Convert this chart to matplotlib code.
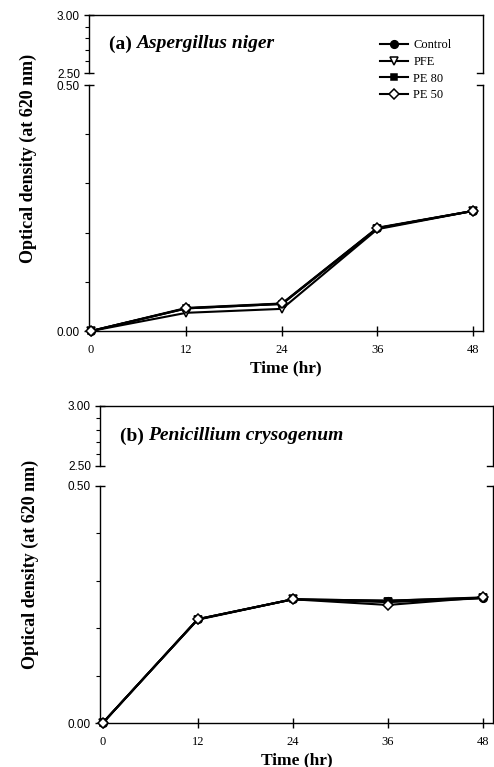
import matplotlib
matplotlib.use("Agg")
import matplotlib.pyplot as plt
from matplotlib.ticker import MultipleLocator, FixedLocator, FormatStrFormatter

plt.rcParams['font.family'] = ['Liberation Serif', 'DejaVu Serif']

time_hr = [0, 12, 24, 36, 48]
series_names = ["Control", "PFE", "PE 80", "PE 50"]

a_control = [0.000, 0.046, 0.055, 0.209, 0.244]
a_pfe = [0.000, 0.037, 0.045, 0.207, 0.244]
a_pe80 = [0.000, 0.046, 0.055, 0.209, 0.244]
a_pe50 = [0.000, 0.047, 0.056, 0.210, 0.244]

b_control = [0.000, 0.219, 0.261, 0.258, 0.264]
b_pfe = [0.000, 0.218, 0.261, 0.255, 0.263]
b_pe80 = [0.000, 0.219, 0.261, 0.258, 0.265]
b_pe50 = [0.000, 0.219, 0.261, 0.249, 0.265]

x_ticks = [0, 12, 24, 36, 48]
titles = ["(a) ", "(b) "]
species = ["Aspergillus niger", "Penicillium crysogenum"]

W, H = 494, 767
fig = plt.figure(figsize=(W / 100, H / 100), dpi=100)

def fx(px):
    return px / W

def fy(py):
    return 1 - py / H

styles = [
    dict(marker='o', mfc='black', mec='black'),
    dict(marker='v', mfc='white', mec='black'),
    dict(marker='s', mfc='black', mec='black'),
    dict(marker='D', mfc='white', mec='black'),
]
msizes = [5.5, 5.5, 5, 5]

def make_panel(left, right, up_top, up_bot, lo_top, lo_bot, xlim, data, title, sp,
               ylab_x, ylab_y, with_legend):
    ax_up = fig.add_axes([fx(left), fy(up_bot), fx(right - left), fy(up_top) - fy(up_bot)])
    ax_lo = fig.add_axes([fx(left), fy(lo_bot), fx(right - left), fy(lo_top) - fy(lo_bot)])
    ax_up.set_ylim(2.5, 3.0)
    ax_lo.set_ylim(0.0, 0.5)
    for ax in (ax_up, ax_lo):
        ax.set_xlim(*xlim)
        ax.set_facecolor('none')
        for s in ax.spines.values():
            s.set_linewidth(1.0)
        ax.tick_params(axis='y', which='major', direction='inout', length=7, width=1.0,
                       labelsize=8.5, pad=3)
        ax.tick_params(axis='y', which='minor', direction='out', length=3, width=0.8)
    ax_up.spines['bottom'].set_visible(False)
    ax_lo.spines['top'].set_visible(False)
    ax_up.set_xticks([])
    ax_up.yaxis.set_major_locator(FixedLocator([2.5, 3.0]))
    ax_up.yaxis.set_minor_locator(MultipleLocator(0.1))
    ax_lo.yaxis.set_major_locator(FixedLocator([0.0, 0.5]))
    ax_lo.yaxis.set_minor_locator(MultipleLocator(0.1))
    ax_up.yaxis.set_major_formatter(FormatStrFormatter('%.2f'))
    ax_lo.yaxis.set_major_formatter(FormatStrFormatter('%.2f'))
    for ax in (ax_up, ax_lo):
        for lab in ax.get_yticklabels():
            lab.set_family('Liberation Sans')
    ax_lo.set_xticks(x_ticks)
    ax_lo.set_xticklabels([str(t) for t in x_ticks])
    ax_lo.tick_params(axis='x', direction='inout', length=7, width=1.0, labelsize=9, pad=6)
    ax_lo.set_xlabel("Time (hr)", fontsize=12.5, fontweight='bold', labelpad=3)
    # break marks on right spine
    ax_up.plot([1.0, 0.985], [0, 0], transform=ax_up.transAxes, color='black', lw=1.0, clip_on=False)
    ax_lo.plot([1.0, 0.985], [1, 1], transform=ax_lo.transAxes, color='black', lw=1.0, clip_on=False)
    handles = []
    for vals, st, ms, name in zip(data, styles, msizes, series_names):
        h, = ax_lo.plot(time_hr, vals, color='black', lw=1.5, ms=ms, mew=1.1,
                        label=name, clip_on=False, zorder=3, **st)
        handles.append(h)
    t = ax_up.text(0.05, 0.50, title, transform=ax_up.transAxes, fontsize=14, fontweight='bold',
                   va='center', ha='left')
    fig.canvas.draw()
    bb = t.get_window_extent()
    inv = ax_up.transAxes.inverted()
    x_end = inv.transform((bb.x1, bb.y0))[0]
    ax_up.text(x_end, 0.50, sp, transform=ax_up.transAxes, fontsize=14, fontweight='bold',
               style='italic', va='center', ha='left')
    fig.text(fx(ylab_x), fy(ylab_y), "Optical density (at 620 nm)",
             rotation=90, fontsize=13, fontweight='bold', ha='center', va='center')
    if with_legend:
        fig.legend(handles=handles, loc='upper left',
                   bbox_to_anchor=(fx(374), fy(33)), frameon=False, fontsize=9,
                   handlelength=2.2, handletextpad=0.45, labelspacing=0.38, borderpad=0)

make_panel(89, 483, 15, 73, 85, 331, (-0.25, 49.26),
           [a_control, a_pfe, a_pe80, a_pe50], titles[0], species[0], 28, 158, True)
make_panel(100, 493, 406, 466, 486, 723, (-0.34, 49.26),
           [b_control, b_pfe, b_pe80, b_pe50], titles[1], species[1], 30, 564, False)

fig.savefig("out.png", dpi=100)
